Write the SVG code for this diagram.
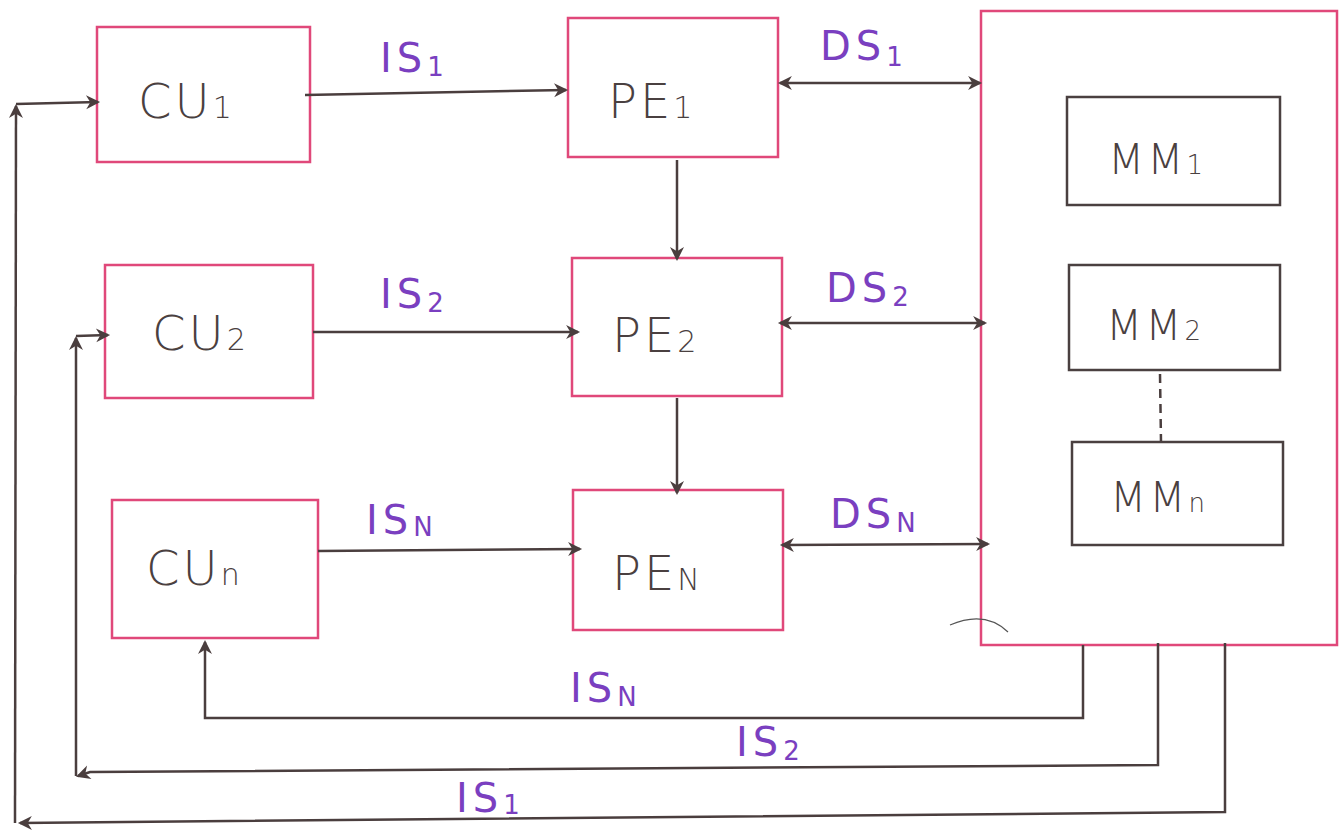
<svg xmlns="http://www.w3.org/2000/svg" width="1339" height="839" viewBox="0 0 1339 839">
<style>
.box{fill:none;stroke:#e0487a;stroke-width:2.5}
.mm{fill:none;stroke:#4a4040;stroke-width:2.5}
.ln{fill:none;stroke:#4a3e3e;stroke-width:2.5}
.lbl{font-family:"DejaVu Sans",sans-serif;font-weight:300;fill:#4a4040;font-size:48px;letter-spacing:3px}
.mml{font-size:42px}
.sig{font-family:"DejaVu Sans",sans-serif;fill:#7a3fc0;font-size:40px;letter-spacing:5px}
.sub{font-size:30px}
.ssub{font-size:26px}
</style>
<defs>
<marker id="ah" viewBox="0 0 10 10" refX="9" refY="5" markerWidth="7" markerHeight="7" markerUnits="userSpaceOnUse" orient="auto-start-reverse" style="overflow:visible">
<path d="M0,0 L10,5 L0,10 L3,5 Z" fill="#4a3e3e" transform="scale(2) translate(-4,-2.5)"/>
</marker>
</defs>
<rect width="1339" height="839" fill="#ffffff"/>

<g id="CU1"><rect class="box" x="97" y="27" width="213" height="135"/><text class="lbl" x="138" y="118">CU<tspan class="sub">1</tspan></text></g>
<g id="CU2"><rect class="box" x="105" y="265" width="208" height="133"/><text class="lbl" x="152" y="350">CU<tspan class="sub">2</tspan></text></g>
<g id="CUn"><rect class="box" x="112" y="500" width="206" height="138"/><text class="lbl" x="146" y="585">CU<tspan class="sub">n</tspan></text></g>

<g id="PE1"><rect class="box" x="568" y="18" width="210" height="139"/><text class="lbl" x="608" y="118">PE<tspan class="sub">1</tspan></text></g>
<g id="PE2"><rect class="box" x="572" y="258" width="210" height="138"/><text class="lbl" x="612" y="352">PE<tspan class="sub">2</tspan></text></g>
<g id="PEN"><rect class="box" x="573" y="490" width="210" height="140"/><text class="lbl" x="612" y="590">PE<tspan class="sub">N</tspan></text></g>

<g id="MEM"><rect class="box" x="981" y="11" width="356" height="634"/><path d="M950,625 Q985,610 1008,632" fill="none" stroke="#555" stroke-width="1.2"/></g>
<g id="MM1"><rect class="mm" x="1067" y="97" width="213" height="108"/><text class="lbl mml" x="1108" y="174">MM<tspan class="ssub">1</tspan></text></g>
<g id="MM2"><rect class="mm" x="1069" y="265" width="211" height="105"/><text class="lbl mml" x="1106" y="340">MM<tspan class="ssub">2</tspan></text></g>
<g id="MMn"><rect class="mm" x="1072" y="442" width="211" height="103"/><text class="lbl mml" x="1110" y="512">MM<tspan class="ssub">n</tspan></text></g>

<g id="connectors">
<path class="ln" d="M305,95 L566,90" marker-end="url(#ah)"/>
<path class="ln" d="M313,332 L578,332" marker-end="url(#ah)"/>
<path class="ln" d="M318,551 L580,549" marker-end="url(#ah)"/>
<path class="ln" d="M780,83 L980,83" marker-start="url(#ah)" marker-end="url(#ah)"/>
<path class="ln" d="M780,323 L985,323" marker-start="url(#ah)" marker-end="url(#ah)"/>
<path class="ln" d="M782,545 L988,544" marker-start="url(#ah)" marker-end="url(#ah)"/>
<path class="ln" d="M677,160 L677,259" marker-end="url(#ah)"/>
<path class="ln" d="M677,398 L677,493" marker-end="url(#ah)"/>
<path d="M1160,374 L1161,442" stroke="#4a3e3e" stroke-width="2.5" stroke-dasharray="9,6"/>
<path class="ln" d="M1083,645 L1083,718 L205,718 L205,642" marker-end="url(#ah)"/>
<path class="ln" d="M1158,643 L1158,765 L90,772 L78,776" marker-end="url(#ah)"/>
<path class="ln" d="M76,776 L76,338" marker-end="url(#ah)"/>
<path class="ln" d="M76,336 L108,335" marker-end="url(#ah)"/>
<path class="ln" d="M1225,643 L1225,812 L20,823" marker-end="url(#ah)"/>
<path class="ln" d="M15,823 L16,106" marker-end="url(#ah)"/>
<path class="ln" d="M16,104 L98,102" marker-end="url(#ah)"/>
</g>

<g id="labels">
<text class="sig" x="380" y="72">IS<tspan class="ssub" dy="4">1</tspan></text>
<text class="sig" x="380" y="308">IS<tspan class="ssub" dy="4">2</tspan></text>
<text class="sig" x="366" y="534">IS<tspan class="ssub" dy="2">N</tspan></text>
<text class="sig" x="820" y="60">DS<tspan class="ssub" dy="6">1</tspan></text>
<text class="sig" x="826" y="302">DS<tspan class="ssub" dy="4">2</tspan></text>
<text class="sig" x="830" y="528">DS<tspan class="ssub" dy="4">N</tspan></text>
<text class="sig" x="570" y="702">IS<tspan class="ssub" dy="4">N</tspan></text>
<text class="sig" x="736" y="756">IS<tspan class="ssub" dy="4">2</tspan></text>
<text class="sig" x="456" y="812">IS<tspan class="ssub" dy="2">1</tspan></text>
</g>
</svg>
